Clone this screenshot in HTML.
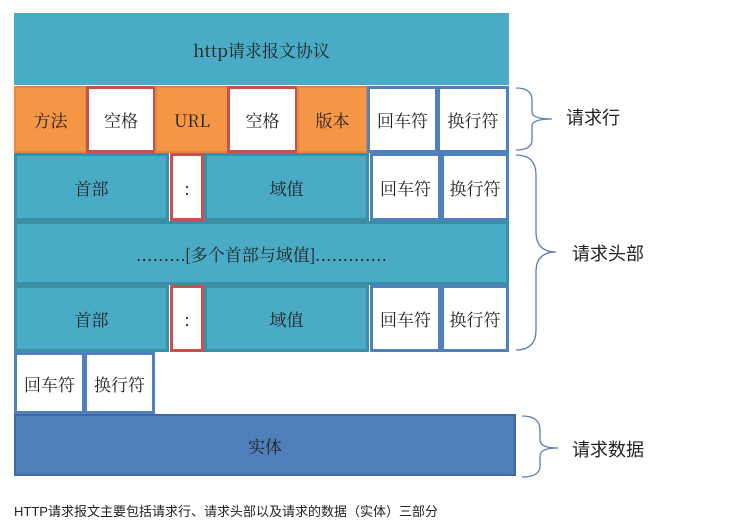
<!DOCTYPE html>
<html><head><meta charset="utf-8"><style>
body{margin:0;width:738px;height:525px;background:#fff;position:relative;overflow:hidden;font-family:"Liberation Sans","Noto Serif CJK SC","Noto Sans CJK SC",sans-serif}
.b{position:absolute;box-sizing:border-box;display:flex;align-items:center;justify-content:center;font-size:17px;color:#222;font-family:"Noto Serif CJK SC","WenQuanYi Zen Hei",serif}
.t{background:#4aabc6;border:3px solid #3a8ea6}
.o{background:#f59546;border:2px solid #e08a40}
.wr{background:#fff;border:3px solid #c9504d}
.wb{background:#fff;border:3px solid #5081bf}
.l{position:absolute;font-size:18px;color:#222;font-family:"Noto Sans CJK SC",sans-serif}
</style></head><body>
<div class="b" style="left:14px;top:13px;width:495px;height:72px;background:#4aabc6;border:none">http请求报文协议</div>
<div class="b o" style="left:14px;top:86px;width:73px;height:67px">方法</div>
<div class="b wr" style="left:86px;top:86px;width:70px;height:67px">空格</div>
<div class="b o" style="left:155px;top:86px;width:74px;height:67px">URL</div>
<div class="b wr" style="left:227px;top:86px;width:71px;height:67px">空格</div>
<div class="b o" style="left:297px;top:86px;width:71px;height:67px">版本</div>
<div class="b wb" style="left:367px;top:86px;width:71px;height:67px">回车符</div>
<div class="b wb" style="left:437px;top:86px;width:72px;height:67px">换行符</div>

<div class="b t" style="left:14px;top:153px;width:155px;height:68px">首部</div>
<div class="b wr" style="left:170px;top:153px;width:34px;height:68px">:</div>
<div class="b t" style="left:204px;top:153px;width:165px;height:68px">域值</div>
<div class="b wb" style="left:370px;top:153px;width:71px;height:68px">回车符</div>
<div class="b wb" style="left:441px;top:153px;width:68px;height:68px">换行符</div>

<div class="b t" style="left:14px;top:221px;width:495px;height:64px">.........[多个首部与域值].............</div>

<div class="b t" style="left:14px;top:285px;width:155px;height:67px">首部</div>
<div class="b wr" style="left:170px;top:285px;width:34px;height:67px">:</div>
<div class="b t" style="left:204px;top:285px;width:165px;height:67px">域值</div>
<div class="b wb" style="left:370px;top:285px;width:71px;height:67px">回车符</div>
<div class="b wb" style="left:441px;top:285px;width:68px;height:67px">换行符</div>

<div class="b wb" style="left:14px;top:352px;width:71px;height:62px">回车符</div>
<div class="b wb" style="left:84px;top:352px;width:71px;height:62px">换行符</div>

<div class="b" style="left:14px;top:414px;width:502px;height:62px;background:#4f7fba;border:2px solid #41699c">实体</div>

<svg style="position:absolute;left:0;top:0" width="738" height="525">
<g fill="none" stroke="#5b7fae" stroke-width="1.3">
<path d="M516,88 Q532,88 532,100 L532,112 Q532,119 552,119 Q532,119 532,126 L532,140 Q532,150 516,150"/>
<path d="M516,155 Q536,155 536,175 L536,232 Q536,252 556,252 Q536,252 536,272 L536,330 Q536,350 516,350"/>
<path d="M522,416 Q540,416 540,430 L540,440 Q540,448 558,448 Q540,448 540,456 L540,466 Q540,477 522,477"/>
</g></svg>
<div class="l" style="left:566px;top:104px">请求行</div>
<div class="l" style="left:572px;top:240px">请求头部</div>
<div class="l" style="left:572px;top:436px">请求数据</div>
<div style="position:absolute;left:14px;top:501px;font-size:13px;color:#222;font-family:'Liberation Sans','Noto Sans CJK SC',sans-serif">HTTP请求报文主要包括请求行、请求头部以及请求的数据（实体）三部分</div>
</body></html>
